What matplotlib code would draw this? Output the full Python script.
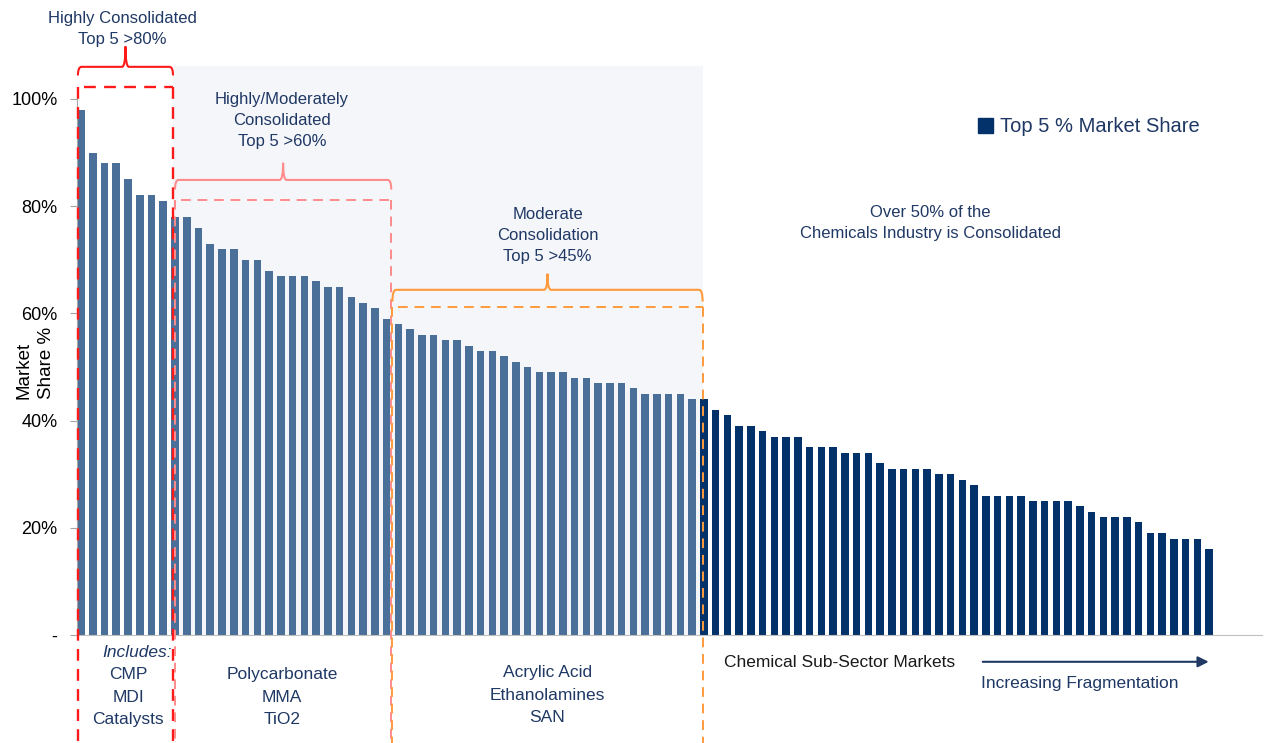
import matplotlib
matplotlib.use('Agg')
import matplotlib.pyplot as plt
import numpy as np
from matplotlib.path import Path
from matplotlib.patches import PathPatch, Rectangle, Patch

plt.rcParams['font.family'] = ['Liberation Sans Narrow', 'Liberation Sans', 'DejaVu Sans']

# top-5 market share (%) by chemical sub-sector, sorted
highly = [98, 90, 88, 88, 85, 82, 82, 81]
high_moderate = [78, 78, 76, 73, 72, 72, 70, 70, 68, 67, 67, 67, 66, 65, 65, 63, 62, 61, 59]
moderate = [58, 57, 56, 56, 55, 55, 54, 53, 53, 52, 51, 50, 49, 49, 49, 48, 48, 47, 47, 47,
            46, 45, 45, 45, 45, 44]
fragmented = [44, 42, 41, 39, 39, 38, 37, 37, 37, 35, 35, 35, 34, 34, 34, 32, 31, 31, 31, 31,
              30, 30, 29, 28, 26, 26, 26, 26, 25, 25, 25, 25, 24, 23, 22, 22, 22, 21, 19, 19,
              18, 18, 18, 16]
ytick_vals = [0, 20, 40, 60, 80, 100]
ytick_labels = ['-', '20%', '40%', '60%', '80%', '100%']

share = highly + high_moderate + moderate + fragmented
n_cons = len(highly) + len(high_moderate) + len(moderate)
x = np.arange(len(share))

navy = '#1f3864'
light_bar = '#4a6f98'
dark_bar = '#03326a'
red = '#ff1a1a'
pink = '#ff8c8c'
orange = '#ff9a3c'

fig = plt.figure(figsize=(12.64, 7.43), dpi=100)
ax = fig.add_axes([77/1264, 108/743, 1185/1264, 635/743])

colors = [light_bar]*n_cons + [dark_bar]*len(fragmented)
ax.bar(x, share, width=0.64, color=colors, zorder=2)

ax.set_xlim(-0.34, 100.5)
ax.set_ylim(0, 118.47)
ax.set_yticks(ytick_vals)
ax.set_yticklabels(ytick_labels, family=['Liberation Sans', 'DejaVu Sans'], fontsize=13)
ax.set_xticks([])
for s in ['top', 'right']:
    ax.spines[s].set_visible(False)
ax.spines['left'].set_bounds(0, 100)
ax.spines['left'].set_color('#a6a6a6')
ax.spines['bottom'].set_color('#bfbfbf')
ax.tick_params(axis='y', length=5, color='#a6a6a6', pad=9)

# shaded consolidated region
ax.add_patch(Rectangle((7.83, 0), 52.9 - 7.83, 106.2, facecolor='#f5f6fa',
                       edgecolor='none', zorder=0, clip_on=False))


def brace(x0, x1, ytop, dy, h, color):
    xm = (x0 + x1) / 2
    r = 0.3
    verts = [(x0, ytop - dy), (x0, ytop), (x0 + r, ytop),
             (xm - r, ytop), (xm, ytop), (xm, ytop + h),
             (xm, ytop), (xm + r, ytop),
             (x1 - r, ytop), (x1, ytop), (x1, ytop - dy)]
    codes = [Path.MOVETO, Path.CURVE3, Path.CURVE3,
             Path.LINETO, Path.CURVE3, Path.CURVE3,
             Path.CURVE3, Path.CURVE3,
             Path.LINETO, Path.CURVE3, Path.CURVE3]
    ax.add_patch(PathPatch(Path(verts, codes), facecolor='none', edgecolor=color,
                           lw=1.5, clip_on=False, zorder=4))


def dashed_box(x0, x1, ytop, color, lw):
    kw = dict(color=color, lw=lw, ls=(0, (5, 3.5)), clip_on=False, zorder=3)
    ax.plot([x0 + 0.5, x1], [ytop, ytop], **kw)
    ax.plot([x0, x0], [ytop, -21], **kw)
    ax.plot([x1, x1], [ytop, -21], **kw)


txt = dict(ha='center', va='center', fontsize=12, color=navy, linespacing=1.5,
           clip_on=False)

# highly consolidated
dashed_box(-0.26, 7.83, 102.2, red, 1.7)
brace(-0.26, 7.83, 106.0, 1.6, 3.8, red)
ax.text(3.5, 113.1, 'Highly Consolidated\nTop 5 >80%', **txt)

# highly / moderately consolidated
dashed_box(8.0, 26.4, 81.2, pink, 1.4)
brace(8.0, 26.4, 84.9, 1.8, 3.2, pink)
ax.text(17.1, 95.9, 'Highly/Moderately\nConsolidated\nTop 5 >60%', **txt)

# moderate consolidation
dashed_box(26.5, 52.9, 61.2, orange, 1.4)
brace(26.5, 52.9, 64.4, 2.2, 3.0, orange)
ax.text(39.7, 74.6, 'Moderate\nConsolidation\nTop 5 >45%', **txt)

ax.text(72.3, 76.9, 'Over 50% of the\nChemicals Industry is Consolidated', **txt)

# bottom labels
bot = dict(ha='center', va='center', fontsize=12.5, color=navy, linespacing=1.6,
           clip_on=False)
ax.text(4.75, -3.2, 'Includes:', style='italic', **bot)
ax.text(4.0, -11.6, 'CMP\nMDI\nCatalysts', **bot)
ax.text(17.1, -11.6, 'Polycarbonate\nMMA\nTiO2', **bot)
ax.text(39.7, -11.2, 'Acrylic Acid\nEthanolamines\nSAN', **bot)
ax.text(54.7, -5.2, 'Chemical Sub-Sector Markets', ha='left', va='center', fontsize=12.5,
        color='#1a1a1a', clip_on=False)
ax.annotate('', xy=(96.2, -5.0), xytext=(76.5, -5.0), annotation_clip=False,
            arrowprops=dict(arrowstyle='-|>', color=navy, lw=1.5, mutation_scale=16))
ax.text(85.0, -9.1, 'Increasing Fragmentation', ha='center', va='center', fontsize=12.5,
        color=navy, clip_on=False)

# y label
fig.text(35/1264, 1 - 363/743, 'Market\nShare %', rotation=90, ha='center', va='center',
         fontsize=13.5, family=['Liberation Sans', 'DejaVu Sans'], multialignment='left',
         linespacing=1.45)

leg = ax.legend(handles=[Patch(color=dark_bar, label='Top 5 % Market Share')],
                loc='center left', bbox_to_anchor=(978/1264, 1 - 127/743),
                bbox_transform=fig.transFigure, frameon=False, fontsize=14.5,
                handlelength=0.75, handleheight=0.75, handletextpad=0.35,
                borderpad=0, borderaxespad=0)
for t in leg.get_texts():
    t.set_color(navy)

fig.savefig('out.png', dpi=100)
